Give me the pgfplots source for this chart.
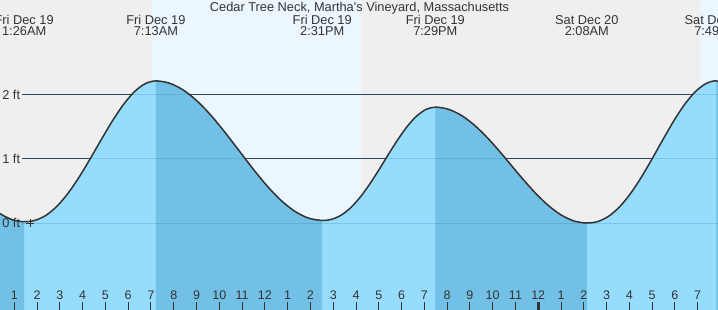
\documentclass[border=0pt]{standalone}
\usepackage{fontspec}
\setmainfont{Liberation Sans}
\usepackage{pgfplots}
\usepackage{pgfplotstable}
\pgfplotsset{compat=1.18}
\definecolor{bggray}{HTML}{EFEFEF}
\definecolor{dayblue}{HTML}{EBF6FF}
\definecolor{rise}{HTML}{96DCFD}
\definecolor{fall}{HTML}{72C0E5}
\definecolor{ink}{HTML}{333333}
\definecolor{gridfaint}{HTML}{2A7FB0}
\pgfplotstableread{
t h
-0.100 0.2807
0.411 0.1392
0.922 0.0503
1.433 0.0200
1.915 0.0423
2.397 0.1219
2.879 0.2640
3.361 0.4654
3.843 0.7154
4.325 0.9990
4.807 1.2962
5.289 1.5847
5.771 1.8414
6.253 2.0441
6.735 2.1747
7.217 2.2200
7.825 2.1829
8.433 2.0740
9.042 1.9007
9.650 1.6750
10.258 1.4121
10.867 1.1300
11.475 0.8479
12.083 0.5850
12.692 0.3593
13.300 0.1860
13.908 0.0771
14.517 0.0400
14.931 0.0580
15.344 0.1220
15.758 0.2363
16.172 0.3983
16.586 0.5994
17.000 0.8276
17.414 1.0668
17.828 1.2989
18.241 1.5054
18.655 1.6685
19.069 1.7736
19.483 1.8100
20.037 1.7792
20.591 1.6888
21.146 1.5449
21.700 1.3575
22.254 1.1392
22.808 0.9050
23.362 0.6708
23.916 0.4525
24.471 0.2651
25.025 0.1213
25.579 0.0308
26.133 0.0000
26.607 0.0225
27.080 0.1028
27.554 0.2462
28.028 0.4494
28.501 0.7017
28.975 0.9879
29.449 1.2878
29.922 1.5790
30.396 1.8380
30.870 2.0425
31.344 2.1743
31.817 2.2200
32.375 2.1355
}\curve
\pgfplotstableread{
t h
-0.100 0.2807
0.411 0.1392
0.922 0.0503
1.433 0.0200
1.915 0.0423
2.397 0.1219
2.879 0.2640
3.361 0.4654
3.843 0.7154
4.325 0.9990
4.807 1.2962
5.289 1.5847
5.771 1.8414
6.253 2.0441
6.735 2.1747
7.217 2.2200
7.825 2.1829
8.433 2.0740
9.042 1.9007
9.650 1.6750
10.258 1.4121
10.867 1.1300
11.475 0.8479
12.083 0.5850
12.692 0.3593
13.300 0.1860
13.908 0.0771
14.517 0.0400
14.931 0.0580
15.344 0.1220
15.758 0.2363
16.172 0.3983
16.586 0.5994
17.000 0.8276
17.414 1.0668
17.828 1.2989
18.241 1.5054
18.655 1.6685
19.069 1.7736
19.483 1.8100
20.037 1.7792
20.591 1.6888
21.146 1.5449
21.700 1.3575
22.254 1.1392
22.808 0.9050
23.362 0.6708
23.916 0.4525
24.471 0.2651
25.025 0.1213
25.579 0.0308
26.133 0.0000
26.607 0.0225
27.080 0.1028
27.554 0.2462
28.028 0.4494
28.501 0.7017
28.975 0.9879
29.449 1.2878
29.922 1.5790
30.396 1.8380
30.870 2.0425
31.344 2.1743
31.817 2.2200
32.375 2.1355
32.375 -1.5
-0.100 -1.5
}\fillall
\pgfplotstableread{
t h
-0.100 0.2807
0.411 0.1392
0.922 0.0503
1.433 0.0200
1.433 -1.5
-0.100 -1.5
}\fallA
\pgfplotstableread{
t h
7.217 2.2200
7.825 2.1829
8.433 2.0740
9.042 1.9007
9.650 1.6750
10.258 1.4121
10.867 1.1300
11.475 0.8479
12.083 0.5850
12.692 0.3593
13.300 0.1860
13.908 0.0771
14.517 0.0400
14.517 -1.5
7.217 -1.5
}\fallB
\pgfplotstableread{
t h
19.483 1.8100
20.037 1.7792
20.591 1.6888
21.146 1.5449
21.700 1.3575
22.254 1.1392
22.808 0.9050
23.362 0.6708
23.916 0.4525
24.471 0.2651
25.025 0.1213
25.579 0.0308
26.133 0.0000
26.133 -1.5
19.483 -1.5
}\fallC
\pgfplotstableread{
t h
31.817 2.2200
32.375 2.1355
32.375 -1.5
31.817 -1.5
}\fallD
\begin{document}
\begin{tikzpicture}
\useasboundingbox (0,0) rectangle (718pt,310pt);
\fill[bggray] (0,0) rectangle (718pt,310pt);
\clip (0,0) rectangle (718pt,310pt);
\begin{axis}[
  at={(0,0)}, anchor=south west,
  scale only axis, width=718pt, height=310pt,
  xmin=0.372, xmax=31.891, ymin=-1.359, ymax=3.484,
  clip=false, axis on top,
  axis line style={draw=none},
  ytick=\empty,
  xtick={1,2,3,4,5,6,7,8,9,10,11,12,13,14,15,16,17,18,19,20,21,22,23,25,26,27,28,29,30,31},
  xticklabels={1,2,3,4,5,6,7,8,9,10,11,12,1,2,3,4,5,6,7,8,9,10,11,1,2,3,4,5,6,7},
  xtick pos=lower, tick align=inside, major tick length=8pt,
  tick style={ink, line width=1pt},
  xticklabel style={anchor=base, yshift=10pt, text=ink, font=\fontsize{12.5}{14}\selectfont},
  extra x ticks={24}, extra x tick labels={12},
  extra x tick style={grid=none, tick style={ink, line width=3pt}},
]
% daylight
\addplot[fill=dayblue, draw=none] coordinates {(7.044,-2) (7.044,4) (16.241,4) (16.241,-2)};
\addplot[fill=dayblue, draw=none] coordinates {(31.08,-2) (31.08,4) (33,4) (33,-2)};
% grid lines under
\addplot[ink, line width=1pt] coordinates {(1.338,2) (31.891,2)};
\addplot[ink, line width=1pt] coordinates {(1.338,1) (31.891,1)};
\addplot[ink, line width=1pt] coordinates {(1.338,0) (31.891,0)};
% fills
\addplot[fill=rise, draw=none] table {\fillall};
\addplot[fill=fall, draw=none] table {\fallA};
\addplot[fill=fall, draw=none] table {\fallB};
\addplot[fill=fall, draw=none] table {\fallC};
\addplot[fill=fall, draw=none] table {\fallD};
% faint grid over fill
\addplot[gridfaint, opacity=0.25, line width=1pt] coordinates {(1.338,2) (31.891,2)};
\addplot[gridfaint, opacity=0.25, line width=1pt] coordinates {(1.338,1) (31.891,1)};
\addplot[gridfaint, opacity=0.25, line width=1pt] coordinates {(1.338,0) (31.891,0)};
% curve
\addplot[ink, line width=1.5pt, smooth, tension=0.5] table {\curve};
\addplot[ink, only marks, mark=+, mark size=4pt, mark options={line width=1pt}] coordinates {(1.689,0)};
% labels
\begin{scope}[every node/.style={text=ink, font=\fontsize{12.8}{15}\selectfont, inner sep=0pt}]
\node[anchor=base] at (axis cs:16.153,3.297) {Cedar Tree Neck, Martha\textquotesingle s Vineyard, Massachusetts};
\node[anchor=base] at (axis cs:1.433,3.105) {Fri Dec 19};
\node[anchor=base] at (axis cs:1.433,2.922) {1:26AM};
\node[anchor=base] at (axis cs:7.217,3.105) {Fri Dec 19};
\node[anchor=base] at (axis cs:7.217,2.922) {7:13AM};
\node[anchor=base] at (axis cs:14.517,3.105) {Fri Dec 19};
\node[anchor=base] at (axis cs:14.517,2.922) {2:31PM};
\node[anchor=base] at (axis cs:19.483,3.105) {Fri Dec 19};
\node[anchor=base] at (axis cs:19.483,2.922) {7:29PM};
\node[anchor=base] at (axis cs:26.133,3.105) {Sat Dec 20};
\node[anchor=base] at (axis cs:26.133,2.922) {2:08AM};
\node[anchor=base] at (axis cs:31.817,3.105) {Sat Dec 20};
\node[anchor=base] at (axis cs:31.817,2.922) {7:49AM};
\node[anchor=base east] at (axis cs:1.263,1.925) {2 ft};
\node[anchor=base east] at (axis cs:1.263,0.925) {1 ft};
\node[anchor=base east] at (axis cs:1.263,-0.075) {0 ft};
\end{scope}
\end{axis}
\end{tikzpicture}
\end{document}
